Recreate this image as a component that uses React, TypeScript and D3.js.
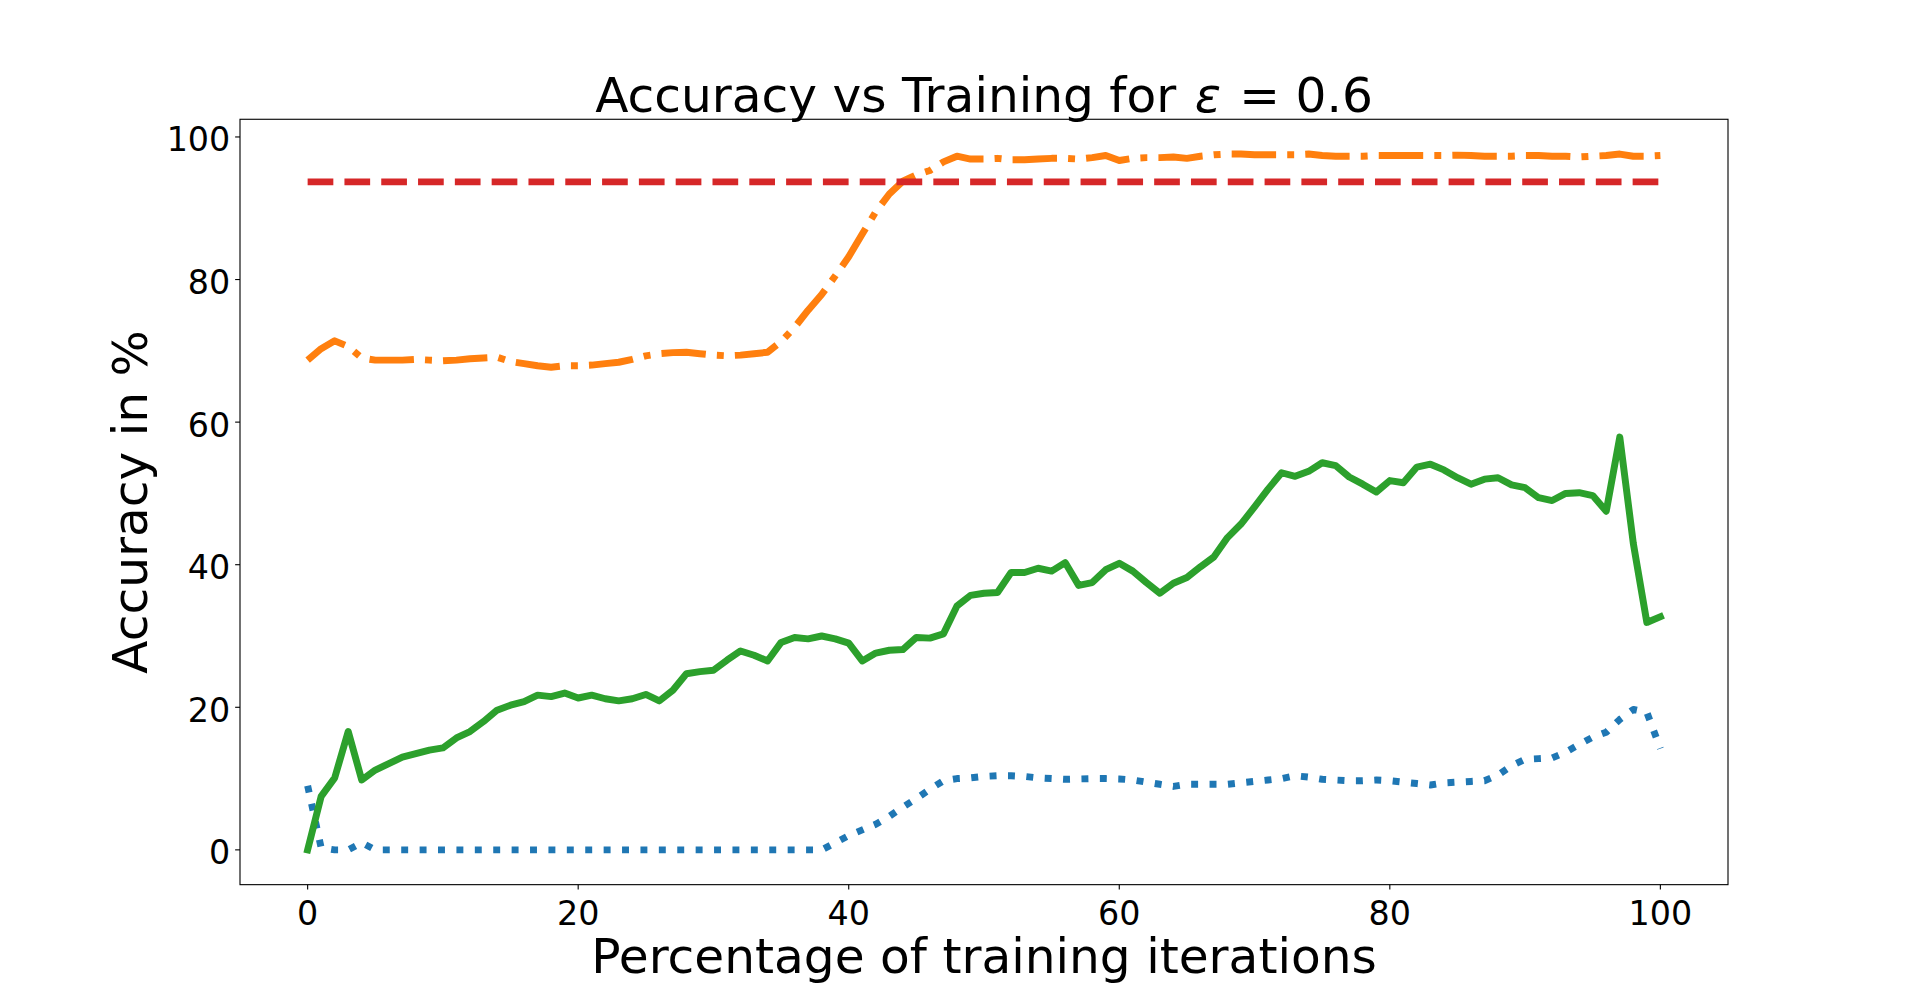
import React from "react";
import * as d3 from "d3";

const xValues: number[] = d3.range(0, 101);

const greenSeries: number[] = [
  0, 7.5, 10.1, 16.6, 9.8, 11.2, 12.1, 13.0, 13.5, 14.0,
  14.3, 15.7, 16.6, 18.0, 19.6, 20.3, 20.8, 21.7, 21.5, 22.0,
  21.3, 21.7, 21.2, 20.9, 21.2, 21.8, 20.9, 22.4, 24.7, 25.0,
  25.2, 26.6, 27.9, 27.3, 26.5, 29.1, 29.8, 29.6, 30.0, 29.6,
  29.0, 26.5, 27.6, 28.0, 28.1, 29.8, 29.7, 30.3, 34.2, 35.7,
  36.0, 36.1, 38.9, 38.9, 39.5, 39.1, 40.3, 37.1, 37.5, 39.3,
  40.2, 39.1, 37.5, 36.0, 37.4, 38.2, 39.7, 41.1, 43.8, 45.7,
  48.1, 50.6, 52.9, 52.4, 53.1, 54.3, 53.9, 52.3, 51.3, 50.2,
  51.8, 51.5, 53.7, 54.1, 53.3, 52.2, 51.3, 52.0, 52.2, 51.2,
  50.8, 49.4, 49.0, 50.0, 50.1, 49.7, 47.5, 57.9, 43.0, 31.9,
  32.7,
];

const blueSeries: number[] = [
  9.0, 0.3, 0, 0, 1.0, 0, 0, 0, 0, 0,
  0, 0, 0, 0, 0, 0, 0, 0, 0, 0,
  0, 0, 0, 0, 0, 0, 0, 0, 0, 0,
  0, 0, 0, 0, 0, 0, 0, 0, 0, 1.0,
  2.0, 2.8, 3.6, 4.7, 6.0, 7.2, 8.5, 9.7, 10.0, 10.1,
  10.3, 10.4, 10.4, 10.3, 10.1, 10.0, 9.9, 9.95, 10.0, 10.0,
  9.95, 9.8, 9.5, 9.2, 8.9, 9.2, 9.2, 9.2, 9.2, 9.4,
  9.6, 9.8, 10.0, 10.4, 10.2, 9.9, 9.8, 9.7, 9.7, 9.8,
  9.7, 9.5, 9.3, 9.1, 9.4, 9.5, 9.6, 9.7, 10.5, 11.8,
  12.7, 12.8, 12.9, 13.7, 14.8, 15.8, 16.5, 18.3, 19.7, 19.3,
  14.2,
];

const orangeSeries: number[] = [
  68.7, 70.3, 71.4, 70.6, 69.0, 68.7, 68.7, 68.7, 68.8, 68.7,
  68.6, 68.7, 68.9, 69.0, 69.1, 68.5, 68.2, 67.9, 67.7, 67.9,
  67.9, 68.0, 68.2, 68.4, 68.8, 69.3, 69.6, 69.75, 69.8, 69.6,
  69.4, 69.3, 69.4, 69.6, 69.8, 71.3, 73.3, 75.7, 77.9, 80.5,
  83.2, 86.4, 89.5, 92.0, 93.8, 94.7, 95.3, 96.5, 97.3, 96.9,
  96.9, 97.0, 96.8, 96.8, 96.9, 97.0, 97.0, 96.9, 97.1, 97.4,
  96.7, 97.0, 97.1, 97.1, 97.2, 97.0, 97.3, 97.5, 97.6, 97.6,
  97.5, 97.5, 97.5, 97.5, 97.6, 97.4, 97.3, 97.3, 97.3, 97.4,
  97.4, 97.4, 97.4, 97.4, 97.4, 97.45, 97.4, 97.3, 97.3, 97.3,
  97.4, 97.4, 97.3, 97.3, 97.2, 97.3, 97.4, 97.6, 97.3, 97.3,
  97.4,
];

const redLevel = 93.7;
const redSeries: number[] = xValues.map(() => redLevel);

const xTicks: number[] = [0, 20, 40, 60, 80, 100];
const yTicks: number[] = [0, 20, 40, 60, 80, 100];

const W = 1920;
const H = 994;
const left = 0.125 * W;
const right = 0.9 * W;
const top = H * (1 - 0.88);
const bottom = H * (1 - 0.11);

const FONT = "'DejaVu Sans', sans-serif";
const PX = 100 / 72;

export default function App() {
  const allY = [...greenSeries, ...blueSeries, ...orangeSeries, ...redSeries];
  const yMin = d3.min(allY) as number;
  const yMax = d3.max(allY) as number;
  const yPad = (yMax - yMin) * 0.05;
  const xMin = 0;
  const xMax = 100;
  const xPad = (xMax - xMin) * 0.05;

  const x = d3.scaleLinear().domain([xMin - xPad, xMax + xPad]).range([left, right]);
  const y = d3.scaleLinear().domain([yMin - yPad, yMax + yPad]).range([bottom, top]);

  const line = d3
    .line<number>()
    .x((_, i) => x(xValues[i]))
    .y((d) => y(d));

  const lw = 5 * PX;
  const tickLen = 3.5 * PX;
  const spineW = 0.8 * PX;

  const series = [
    { data: blueSeries, color: "#1f77b4", dash: [1, 1.65].map((v) => v * lw).join(","), cap: "butt" },
    { data: orangeSeries, color: "#ff7f0e", dash: [6.4, 1.6, 1, 1.6].map((v) => v * lw).join(","), cap: "butt" },
    { data: greenSeries, color: "#2ca02c", dash: "none", cap: "square" },
    { data: redSeries, color: "#d62728", dash: [3.7, 1.6].map((v) => v * lw).join(","), cap: "butt" },
  ];

  const tickFont = 24 * PX;
  const labelFont = 35 * PX;

  return (
    <svg
      width={W}
      height={H}
      style={{ position: "absolute", left: 0, top: 0, background: "#fff" }}
      xmlns="http://www.w3.org/2000/svg"
    >
      <rect x={0} y={0} width={W} height={H} fill="#fff" />
      {series.map((s, i) => (
        <path
          key={i}
          d={line(s.data) || ""}
          fill="none"
          stroke={s.color}
          strokeWidth={lw}
          strokeDasharray={s.dash}
          strokeLinecap={s.cap as any}
          strokeLinejoin="round"
        />
      ))}
      <rect
        x={left}
        y={top}
        width={right - left}
        height={bottom - top}
        fill="none"
        stroke="#000"
        strokeWidth={spineW}
      />
      {xTicks.map((t) => (
        <g key={"x" + t}>
          <line x1={x(t)} x2={x(t)} y1={bottom} y2={bottom + tickLen} stroke="#000" strokeWidth={spineW} />
          <text
            x={x(t)}
            y={924.5}
            textAnchor="middle"
            fontFamily={FONT}
            fontSize={tickFont}
            fill="#000"
          >
            {t}
          </text>
        </g>
      ))}
      {yTicks.map((t) => (
        <g key={"y" + t}>
          <line x1={left - tickLen} x2={left} y1={y(t)} y2={y(t)} stroke="#000" strokeWidth={spineW} />
          <text
            x={left - 2 * tickLen}
            y={y(t) + 14.5}
            textAnchor="end"
            fontFamily={FONT}
            fontSize={tickFont}
            fill="#000"
          >
            {t}
          </text>
        </g>
      ))}
      <text
        x={(left + right) / 2}
        y={111.5}
        textAnchor="middle"
        fontFamily={FONT}
        fontSize={labelFont}
        fill="#000"
      >
        Accuracy vs Training for <tspan fontStyle="italic" dx={3}>ε</tspan><tspan dx={3}> = 0.6</tspan>
      </text>
      <text
        x={(left + right) / 2}
        y={973}
        textAnchor="middle"
        fontFamily={FONT}
        fontSize={labelFont}
        fill="#000"
      >
        Percentage of training iterations
      </text>
      <text
        transform={`translate(147.3, ${(top + bottom) / 2}) rotate(-90)`}
        textAnchor="middle"
        fontFamily={FONT}
        fontSize={labelFont}
        fill="#000"
      >
        Accuracy in %
      </text>
    </svg>
  );
}
